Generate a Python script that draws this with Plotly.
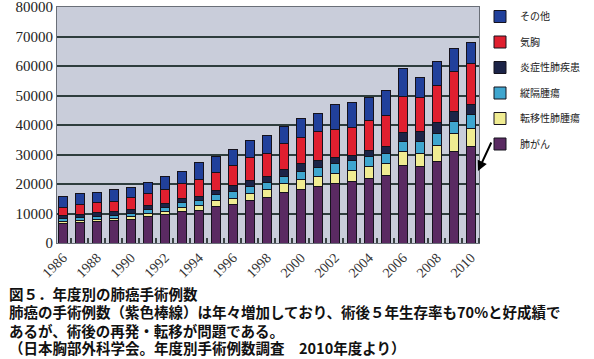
import plotly.graph_objects as go

years = list(range(1986, 2011))
lung_cancer = [6700, 6900, 7200, 7500, 8100, 8900, 9500, 10700, 11100, 12300, 13200, 14400, 15500,
               17100, 18200, 19300, 20200, 20800, 21700, 22800, 26400, 26100, 27600, 31000, 32700]
metastatic = [600, 800, 800, 800, 900, 1000, 1100, 1500, 1700, 2000, 1900, 2400, 2500,
              3100, 3400, 3400, 3400, 3700, 4200, 4200, 4500, 4300, 5600, 6200, 6200]
mediastinal = [1000, 1000, 1100, 1100, 1100, 1300, 1400, 1500, 1500, 2000, 2500, 2300, 2500,
               2500, 2600, 2900, 3400, 3400, 3400, 3400, 3600, 3900, 4000, 3900, 4500]
inflammatory = [900, 1100, 1200, 1300, 1300, 1500, 1400, 1300, 1400, 1400, 2000, 2000, 2000,
                2300, 2600, 2500, 2000, 1700, 2000, 2300, 2900, 3600, 3600, 3400, 3400]
pneumothorax = [3000, 3100, 3300, 3500, 4000, 4100, 4700, 5200, 5800, 6200, 6600, 7800, 7700,
                8600, 9000, 9600, 9500, 9500, 10200, 10500, 12400, 11300, 12500, 13600, 14100]
other = [3500, 4000, 3500, 3800, 3500, 3600, 4400, 4200, 5700, 5300, 5500, 5700, 6200,
         5900, 6400, 6200, 8600, 8500, 7900, 8500, 9400, 6800, 8100, 7900, 7100]

series = [
    ("肺がん", lung_cancer, "#5a2a62"),
    ("転移性肺腫瘍", metastatic, "#f0ec92"),
    ("縦隔腫瘍", mediastinal, "#3fa6cf"),
    ("炎症性肺疾患", inflammatory, "#1c2448"),
    ("気胸", pneumothorax, "#e01f2f"),
    ("その他", other, "#21409b"),
]

x_label_years = years[::2]
x_labels = [str(y) for y in x_label_years]
y_ticks = list(range(0, 80001, 10000))

fig = go.Figure()
n = len(series)
for i, (name, vals, col) in enumerate(series):
    fig.add_trace(go.Bar(
        x=years, y=vals, name=name, legendgroup=name, legendrank=n - i,
        marker=dict(color=col, line=dict(color="#15121c", width=1)),
    ))

L, R, T, B = 57, 115, 7, 116
W, H = 594, 359
pw, ph = W - L - R, H - T - B

def px(xp):
    return (xp - L) / pw

def py(yp):
    return (H - B - yp) / ph

fig.update_layout(
    width=W, height=H,
    margin=dict(l=L, r=R, t=T, b=B, autoexpand=False),
    paper_bgcolor="white",
    plot_bgcolor="#c9cdda",
    barmode="stack",
    bargap=0.52,
    showlegend=True,
    legend=dict(
        x=px(480), y=py(2), xanchor="left", yanchor="top",
        traceorder="grouped", tracegroupgap=6.5,
        font=dict(family="Noto Sans CJK JP", size=10, color="#222"),
        bgcolor="rgba(0,0,0,0)",
    ),
    xaxis=dict(
        range=[1985.65, 2010.47],
        tickmode="array", tickvals=x_label_years, ticktext=x_labels,
        tickangle=-45, ticks="",
        tickfont=dict(family="Liberation Serif", size=14, color="#333"),
        ticklabeloverflow="allow",
        showgrid=False, zeroline=False,
        showline=True, linecolor="#6a6f78", linewidth=1, mirror=True,
        minor=dict(tickmode="linear", tick0=1986.45, dtick=1, ticks="inside",
                   ticklen=5, tickcolor="#3a4444", tickwidth=1.5, showgrid=False),
    ),
    yaxis=dict(
        range=[0, 80000],
        tickmode="array", tickvals=y_ticks, ticktext=[str(v) for v in y_ticks],
        tickfont=dict(family="Liberation Serif", size=15, color="#222"),
        ticklabeloverflow="allow",
        showgrid=True, gridcolor="#2e3d3d", gridwidth=2,
        zeroline=False,
        showline=True, linecolor="#6a6f78", linewidth=1, mirror=True,
        ticks="",
    ),
)

# arrow pointing at the lung-cancer bar of 2010
fig.add_annotation(
    xref="paper", yref="paper", x=px(478), y=py(171),
    ax=14, ay=-30, showarrow=True, arrowhead=2, arrowsize=1, arrowwidth=2,
    arrowcolor="black", text="",
)

caption_lines = [
    "図５．年度別の肺癌手術例数",
    "肺癌の手術例数（紫色棒線）は年々増加しており、術後５年生存率も70%と好成績で",
    "あるが、術後の再発・転移が問題である。",
    "（日本胸部外科学会。年度別手術例数調査　2010年度より）",
]
caption_y = [293, 311, 330, 347]
for txt, yp in zip(caption_lines, caption_y):
    fig.add_annotation(
        xref="paper", yref="paper", x=px(7), y=py(yp),
        xanchor="left", yanchor="middle", align="left", showarrow=False,
        text="<b>%s</b>" % txt,
        font=dict(family="Noto Sans CJK JP", size=14.5, color="#111"),
    )

# remove the page's default body margin so the figure fills the window
fig.write_html("out.html", config={"displayModeBar": False},
               post_script="document.body.style.margin='0';")
